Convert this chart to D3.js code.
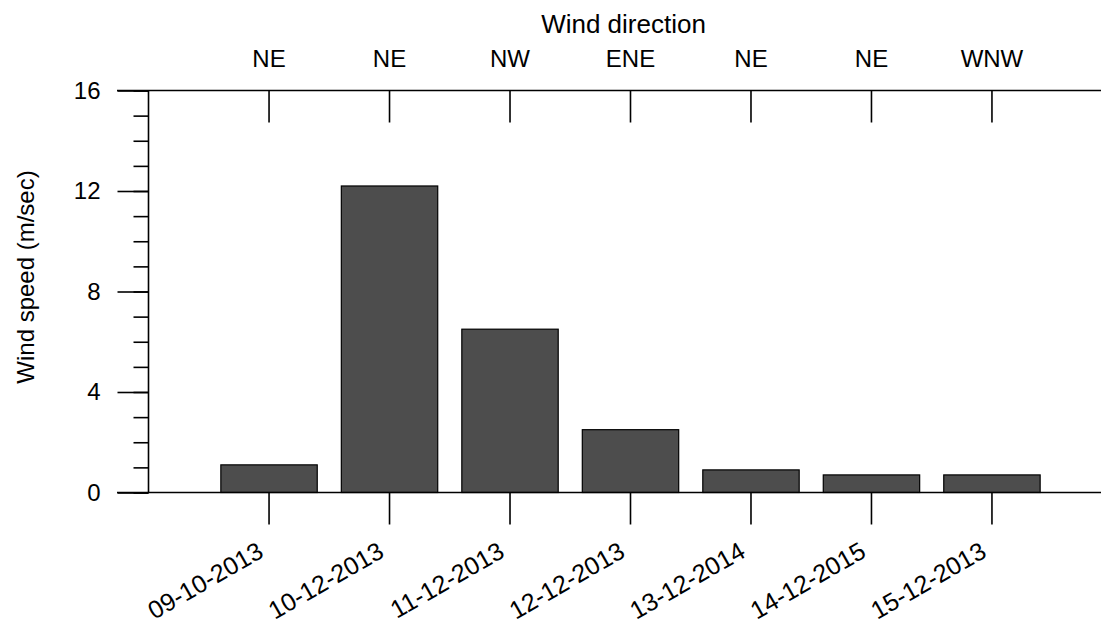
<!DOCTYPE html>
<html>
<head>
<meta charset="utf-8">
<script src="https://cdn.jsdelivr.net/npm/d3@7"></script>
<style>
  html, body { margin: 0; padding: 0; background: #fff; }
  svg text { font-family: "Liberation Sans", Arial, sans-serif; fill: #000; }
</style>
</head>
<body>
<svg id="chart" width="1101" height="627"></svg>
<script>
// Observation dates (x categories)
const dates = ["09-10-2013", "10-12-2013", "11-12-2013", "12-12-2013", "13-12-2014", "14-12-2015", "15-12-2013"];
// Wind speed in m/sec for each date
const speeds = [1.1, 12.2, 6.5, 2.5, 0.9, 0.7, 0.7];
// Prevailing wind direction for each date
const directions = ["NE", "NE", "NW", "ENE", "NE", "NE", "WNW"];
// Y axis major tick values
const yTicks = [0, 4, 8, 12, 16];
const yMinorTicks = d3.range(0, 17, 1);

const svg = d3.select("#chart");

const plotLeft = 148.5, plotTop = 90.5, plotBottom = 492.5;
const lineLeft = 117, lineRight = 1101;

const x = d3.scaleBand()
  .domain(dates)
  .range([208.8, 1052.2])
  .paddingInner(0.2)
  .paddingOuter(0.1);

const y = d3.scaleLinear().domain([0, 16]).range([plotBottom, plotTop]);

// Bars
svg.append("g").selectAll("rect")
  .data(speeds)
  .join("rect")
  .attr("x", (d, i) => x(dates[i]))
  .attr("y", d => y(d))
  .attr("width", x.bandwidth())
  .attr("height", d => y(0) - y(d))
  .attr("fill", "#4d4d4d")
  .attr("stroke", "#000")
  .attr("stroke-width", 1.2);

// Left axis: minor ticks
const yMinor = svg.append("g")
  .attr("transform", `translate(${plotLeft},0)`)
  .call(d3.axisLeft(y).tickValues(yMinorTicks).tickSize(15).tickFormat(""));
yMinor.select(".domain").remove();

// Left axis: major ticks and labels
const yMajor = svg.append("g")
  .attr("transform", `translate(${plotLeft},0)`)
  .call(d3.axisLeft(y).tickValues(yTicks).tickSize(31).tickPadding(17));
yMajor.select(".domain").remove();
yMajor.selectAll("text").style("font-size", "24px");

svg.selectAll(".tick line").attr("stroke", "#000").attr("stroke-width", 1.6);

// Vertical axis line
svg.append("line")
  .attr("x1", plotLeft).attr("x2", plotLeft)
  .attr("y1", plotTop).attr("y2", plotBottom)
  .attr("stroke", "#000").attr("stroke-width", 1.6);

// Horizontal frame lines at 0 and at the top
[plotTop, plotBottom].forEach(py => {
  svg.append("line")
    .attr("x1", lineLeft).attr("x2", lineRight)
    .attr("y1", py).attr("y2", py)
    .attr("stroke", "#000").attr("stroke-width", 1.6);
});

const xCenter = d => x(d) + x.bandwidth() / 2;

// Bottom ticks
const xb = svg.append("g")
  .attr("transform", `translate(0,${plotBottom})`)
  .call(d3.axisBottom(x).tickSize(32).tickFormat(""));
xb.select(".domain").remove();
xb.selectAll(".tick line").attr("stroke", "#000").attr("stroke-width", 1.6);

// Top ticks, pointing into the plot
const xt = svg.append("g")
  .attr("transform", `translate(0,${plotTop})`)
  .call(d3.axisTop(x).tickSize(-32).tickFormat(""));
xt.select(".domain").remove();
xt.selectAll(".tick line").attr("stroke", "#000").attr("stroke-width", 1.6);

// Rotated date labels
svg.append("g").selectAll("text")
  .data(dates)
  .join("text")
  .attr("transform", d => `translate(${xCenter(d) - 4},${556}) rotate(-30)`)
  .attr("text-anchor", "end")
  .style("font-size", "25px")
  .text(d => d);

// Wind direction labels above each bar
svg.append("g").selectAll("text")
  .data(directions)
  .join("text")
  .attr("x", (d, i) => xCenter(dates[i]))
  .attr("y", 67)
  .attr("text-anchor", "middle")
  .style("font-size", "24px")
  .text(d => d);

// Top title
svg.append("text")
  .attr("x", 623.5)
  .attr("y", 33)
  .attr("text-anchor", "middle")
  .style("font-size", "26px")
  .text("Wind direction");

// Y axis title
svg.append("text")
  .attr("transform", `translate(34,277) rotate(-90)`)
  .attr("text-anchor", "middle")
  .style("font-size", "24px")
  .text("Wind speed (m/sec)");
</script>
</body>
</html>
